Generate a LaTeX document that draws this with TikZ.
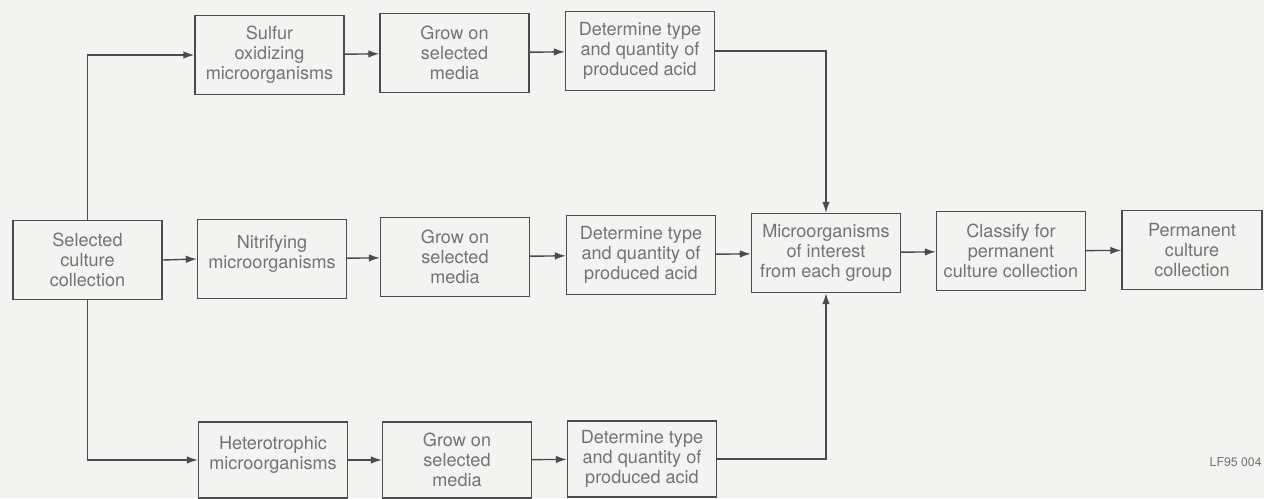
\documentclass[tikz,border=0pt]{standalone}
\usepackage{fontspec}
\setmainfont{TeX Gyre Heros}
\usepackage{tikz}
\usetikzlibrary{arrows.meta}
\definecolor{paper}{RGB}{243,243,241}
\definecolor{ink}{RGB}{75,75,75}
\definecolor{print}{RGB}{115,115,115}
\tikzstyle{stage} = [draw=ink, line width=0.8pt, minimum width=2.98cm,
    minimum height=1.58cm, align=center, text=print, inner sep=1pt,
    font=\fontsize{10.3}{11.4}\selectfont]
\tikzset{>={Latex[length=2.2mm,width=1.5mm]}}
\tikzset{flow/.style={->, draw=ink, line width=0.8pt}}

\begin{document}
\begin{tikzpicture}[x=0.02cm, y=-0.02cm]
    \fill[paper] (0,0) rectangle (1264,498);
    \useasboundingbox (0,0) rectangle (1264,498);
    %source
    \node[stage] (sel) at (87.5,260) {Selected\\culture\\collection};
    %sulfur group
    \node[stage] (sulf) at (269.5,55) {Sulfur\\oxidizing\\microorganisms};
    \node[stage] (grow1) at (454.5,53) {Grow on\\selected\\media};
    \node[stage] (det1) at (640,51) {Determine type\\and quantity of\\produced acid};
    %nitrifying group
    \node[stage] (nit) at (272,259) {Nitrifying\\microorganisms\\[-3.5pt]};
    \node[stage] (grow2) at (455,257) {Grow on\\selected\\media};
    \node[stage] (det2) at (641,255) {Determine type\\and quantity of\\produced acid};
    %heterotrophic group
    \node[stage, minimum height=1.52cm] (het) at (273,460) {Heterotrophic\\microorganisms\\[-3.5pt]};
    \node[stage, minimum height=1.52cm] (grow3) at (457,460) {Grow on\\selected\\media};
    \node[stage, minimum height=1.52cm] (det3) at (642,459) {Determine type\\and quantity of\\produced acid};
    %collection
    \node[stage] (micro) at (826,253) {Microorganisms\\of interest\\from each group};
    \node[stage] (class) at (1011,251) {Classify for\\permanent\\culture collection};
    \node[stage, minimum width=2.8cm] (perm) at (1192,250) {Permanent\\culture\\collection};
    %label
    \node[anchor=east, text=print, inner sep=0pt, font=\fontsize{7}{8}\selectfont] (tag) at (1262,462) {LF95 004};
    %branches
    \draw[flow] (sel.north) |- (sulf.west);
    \draw[flow] (sel.east) -- (nit.west);
    \draw[flow] (sel.south) |- (het.west);
    %rows
    \draw[flow] (sulf) -- (grow1);
    \draw[flow] (grow1) -- (det1);
    \draw[flow] (nit) -- (grow2);
    \draw[flow] (grow2) -- (det2);
    \draw[flow] (het) -- (grow3);
    \draw[flow] (grow3) -- (det3);
    %merge
    \draw[flow] (det1.east) -| (micro.north);
    \draw[flow] (det2) -- (micro);
    \draw[flow] (det3.east) -| (micro.south);
    \draw[flow] (micro) -- (class);
    \draw[flow] (class) -- (perm);
\end{tikzpicture}
\end{document}
